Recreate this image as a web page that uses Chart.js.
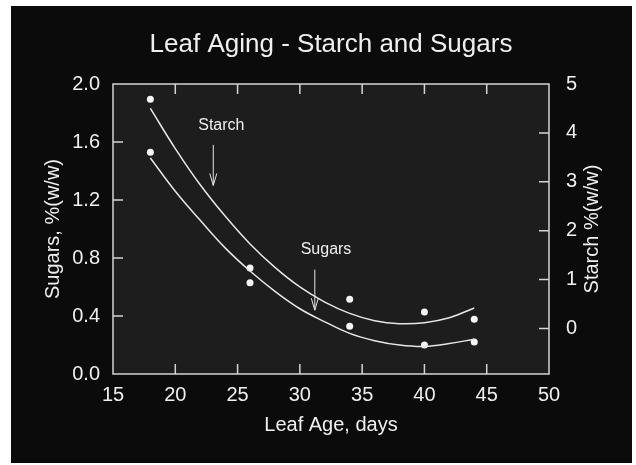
<!DOCTYPE html>
<html>
<head>
<meta charset="utf-8">
<title>Leaf Aging - Starch and Sugars</title>
<script src="https://cdn.jsdelivr.net/npm/chart.js@4/dist/chart.umd.min.js"></script>
<style>
  html, body { margin: 0; padding: 0; background: #ffffff; }
  #wrap { width: 636px; height: 465px; }
</style>
</head>
<body>
<div id="wrap"><canvas id="grafico"></canvas></div>
<script>
const days = [18, 26, 34, 40, 44];
const sugars = [1.53, 0.63, 0.33, 0.20, 0.22];   // eixo esquerdo
const starch = [4.69, 1.24, 0.60, 0.34, 0.19];   // eixo direito

// curvas ajustadas lidas ao longo do traço
const fitDays = [18, 20, 22, 24, 26, 28, 30, 32, 34, 36, 38, 40, 42, 44];
const sugarsFit = [1.49, 1.26, 1.06, 0.87, 0.71, 0.57, 0.45, 0.36, 0.28, 0.23, 0.20, 0.19, 0.21, 0.24];
const starchFit = [4.50, 3.68, 2.94, 2.30, 1.73, 1.25, 0.85, 0.54, 0.31, 0.16, 0.10, 0.12, 0.22, 0.42];

// rótulos com setas (coordenadas de dados, eixo esquerdo)
const noteText = ['Starch', 'Sugars'];
const noteX = [23.7, 32.1];
const noteY = [1.71, 0.855];
const arrowX = [23.05, 31.2];
const arrowFrom = [1.58, 0.72];
const arrowTo = [1.30, 0.44];

const FONT = '"Liberation Sans", Arial, Helvetica, sans-serif';
const TXT = '#efefef';
const LINE = '#e6e6e6';

const toXY = (xs, ys) => xs.map((x, i) => ({ x: x, y: ys[i] }));

const fundoPlugin = {
    id: 'fundo',
    beforeDraw(chart) {
        const ctx = chart.ctx;
        const a = chart.chartArea;
        ctx.save();
        ctx.fillStyle = '#ffffff';
        ctx.fillRect(0, 0, chart.width, chart.height);
        ctx.fillStyle = '#0b0b0b';
        ctx.fillRect(11, 6, 621, 457);
        ctx.fillStyle = '#1d1d1d';
        ctx.fillRect(a.left, a.top, a.right - a.left, a.bottom - a.top);
        ctx.restore();
    },
    afterDraw(chart) {
        const ctx = chart.ctx;
        const a = chart.chartArea;
        const sx = chart.scales.x, sy = chart.scales.y, sy1 = chart.scales.y1;
        const tl = 10;
        ctx.save();
        ctx.strokeStyle = '#d4d4d4';
        ctx.lineWidth = 1.5;
        ctx.strokeRect(a.left, a.top, a.right - a.left, a.bottom - a.top);
        ctx.beginPath();
        sx.ticks.forEach(t => {
            if (t.value <= sx.min || t.value >= sx.max) return;
            const px = sx.getPixelForValue(t.value);
            ctx.moveTo(px, a.bottom); ctx.lineTo(px, a.bottom - tl);
            ctx.moveTo(px, a.top); ctx.lineTo(px, a.top + tl);
        });
        sy.ticks.forEach(t => {
            if (t.value <= sy.min || t.value >= sy.max) return;
            const py = sy.getPixelForValue(t.value);
            ctx.moveTo(a.left, py); ctx.lineTo(a.left + tl, py);
        });
        sy1.ticks.forEach(t => {
            if (t.value <= sy1.min || t.value >= sy1.max) return;
            const py = sy1.getPixelForValue(t.value);
            ctx.moveTo(a.right, py); ctx.lineTo(a.right - tl, py);
        });
        ctx.stroke();

        // titulo
        ctx.fillStyle = TXT;
        ctx.font = '26px ' + FONT;
        ctx.textAlign = 'center';
        ctx.textBaseline = 'alphabetic';
        ctx.fillText('Leaf Aging - Starch and Sugars', (a.left + a.right) / 2, 52);

        // titulo do eixo direito (lido de baixo para cima)
        ctx.save();
        ctx.translate(592, (a.top + a.bottom) / 2);
        ctx.rotate(-Math.PI / 2);
        ctx.font = '20px ' + FONT;
        ctx.textBaseline = 'middle';
        ctx.fillText('Starch %(w/w)', 0, 0);
        ctx.restore();

        // anotações com setas
        ctx.font = '16px ' + FONT;
        ctx.textBaseline = 'middle';
        ctx.strokeStyle = LINE;
        ctx.lineWidth = 1;
        noteText.forEach((txt, i) => {
            ctx.fillText(txt, sx.getPixelForValue(noteX[i]), sy.getPixelForValue(noteY[i]));
            const ax = sx.getPixelForValue(arrowX[i]);
            const y0 = sy.getPixelForValue(arrowFrom[i]);
            const y1 = sy.getPixelForValue(arrowTo[i]);
            ctx.beginPath();
            ctx.moveTo(ax, y0); ctx.lineTo(ax, y1);
            ctx.moveTo(ax - 3.5, y1 - 12); ctx.lineTo(ax, y1); ctx.lineTo(ax + 3.5, y1 - 12);
            ctx.stroke();
        });
        ctx.restore();
    }
};

const canvasEl = document.getElementById('grafico');

const config = {
    type: 'scatter',
    data: {
        datasets: [
            {
                label: 'Starch fit',
                data: toXY(fitDays, starchFit),
                yAxisID: 'y1',
                showLine: true,
                borderColor: LINE,
                borderWidth: 1.5,
                pointRadius: 0,
                tension: 0.4
            },
            {
                label: 'Sugars fit',
                data: toXY(fitDays, sugarsFit),
                yAxisID: 'y',
                showLine: true,
                borderColor: LINE,
                borderWidth: 1.5,
                pointRadius: 0,
                tension: 0.4
            },
            {
                label: 'Starch',
                data: toXY(days, starch),
                yAxisID: 'y1',
                pointRadius: 3.5,
                backgroundColor: '#f5f5f5',
                borderWidth: 0
            },
            {
                label: 'Sugars',
                data: toXY(days, sugars),
                yAxisID: 'y',
                pointRadius: 3.5,
                backgroundColor: '#f5f5f5',
                borderWidth: 0
            }
        ]
    },
    options: {
        responsive: true,
        maintainAspectRatio: false,
        animation: false,
        layout: { padding: { top: 84, left: 0, right: 0, bottom: 0 } },
        plugins: {
            legend: { display: false },
            title: { display: false },
            tooltip: { enabled: false }
        },
        scales: {
            x: {
                type: 'linear',
                position: 'bottom',
                min: 15,
                max: 50,
                grid: { display: false, drawTicks: false },
                border: { display: false },
                ticks: { stepSize: 5, color: TXT, font: { family: FONT, size: 20 }, padding: 9 },
                title: {
                    display: true,
                    text: 'Leaf Age, days',
                    color: TXT,
                    font: { family: FONT, size: 20 },
                    padding: { top: 0, bottom: 28 }
                },
                afterFit: (scale) => { scale.height = 91; }
            },
            y: {
                type: 'linear',
                position: 'left',
                min: 0,
                max: 2,
                grid: { display: false, drawTicks: false },
                border: { display: false },
                ticks: {
                    stepSize: 0.4,
                    color: TXT,
                    font: { family: FONT, size: 20 },
                    padding: 13,
                    callback: (v) => Number(v).toFixed(1)
                },
                title: {
                    display: true,
                    text: 'Sugars, %(w/w)',
                    color: TXT,
                    font: { family: FONT, size: 20 },
                    padding: { top: 41, bottom: 0 }
                },
                afterFit: (scale) => { scale.width = 113; }
            },
            y1: {
                type: 'linear',
                position: 'right',
                min: -0.93,
                max: 5,
                grid: { display: false, drawTicks: false },
                border: { display: false },
                ticks: {
                    stepSize: 1,
                    includeBounds: false,
                    color: TXT,
                    font: { family: FONT, size: 20 },
                    padding: 17,
                    callback: (v) => Number.isInteger(v) ? String(v) : ''
                },
                title: { display: false },
                afterFit: (scale) => { scale.width = 87; }
            }
        }
    },
    plugins: [fundoPlugin]
};

try {
    new Chart(canvasEl, config);
} catch (error) {
    console.error('Erro ao criar o gráfico:', error);
}
</script>
</body>
</html>
